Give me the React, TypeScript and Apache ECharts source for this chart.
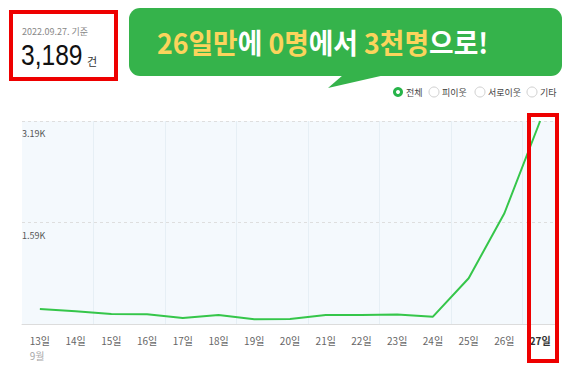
import React, { useEffect, useRef } from "react";
import * as echarts from "echarts";

const categories = ["13일", "14일", "15일", "16일", "17일", "18일", "19일", "20일", "21일", "22일", "23일", "24일", "25일", "26일", "27일"];
const values = [235, 200, 157, 155, 95, 140, 75, 80, 140, 140, 150, 115, 718, 1740, 3189];
const yMax = 3189;
const monthLabel = "9월";
const legendItems = ["전체", "피이웃", "서로이웃", "기타"];
const headerDate = "2022.09.27. 기준";
const headerCount = "3,189";
const headerUnit = "건";

const FONT = '"Noto Sans CJK KR", "Noto Sans", sans-serif';

export default function App() {
  const ref = useRef<HTMLDivElement>(null);
  useEffect(() => {
    document.body.style.margin = "0";
    const chart = echarts.init(ref.current!, null, { renderer: "svg" });
    const legendX = [398, 434, 480, 532];
    const legendGraphics: any[] = [];
    legendItems.forEach((t, i) => {
      if (i === 0) {
        legendGraphics.push({ type: "circle", shape: { cx: legendX[i], cy: 92, r: 5 }, style: { fill: "#27b44a" } });
        legendGraphics.push({ type: "circle", shape: { cx: legendX[i], cy: 92, r: 2 }, style: { fill: "#fff" } });
      } else {
        legendGraphics.push({ type: "circle", shape: { cx: legendX[i], cy: 92, r: 5 }, style: { fill: "#fff", stroke: "#cfcfcf", lineWidth: 1 } });
      }
      legendGraphics.push({
        type: "text", x: legendX[i] + 8, y: 92,
        style: { text: t, font: `9px ${FONT}`, fill: "#444", textVerticalAlign: "middle" },
      });
    });
    chart.setOption({
      animation: false,
      backgroundColor: "#fff",
      grid: { left: 22, right: 12, top: 121, bottom: 51, show: true, backgroundColor: "#f4f9fd", borderWidth: 0 },
      xAxis: {
        type: "category",
        data: categories,
        boundaryGap: true,
        axisLine: { lineStyle: { color: "#dcdcdc", width: 1 } },
        axisTick: { show: false },
        splitLine: {
          show: true,
          interval: (i: number) => i % 2 === 0 && i !== 0,
          lineStyle: { color: "#e6eff5", width: 1 },
        },
        axisLabel: {
          margin: 9,
          interval: 0,
          formatter: (v: string, i: number) =>
            i === 0 ? `{n|${v}}\n{m|${monthLabel}}` : i === categories.length - 1 ? `{b|${v}}` : `{n|${v}}`,
          rich: {
            n: { fontFamily: FONT, fontSize: 10, color: "#666", lineHeight: 15 },
            m: { fontFamily: FONT, fontSize: 10, color: "#aaa", lineHeight: 15, align: "left" },
            b: { fontFamily: FONT, fontSize: 10, color: "#333", fontWeight: "bold", lineHeight: 15 },
          },
        },
      },
      yAxis: {
        type: "value",
        min: 0,
        max: yMax,
        interval: yMax / 2,
        axisLine: { show: false },
        axisTick: { show: false },
        splitLine: { show: true, lineStyle: { color: "#dedede", type: [3, 3], width: 1 } },
        axisLabel: {
          inside: true,
          margin: 0,
          verticalAlign: "top",
          padding: [8, 0, 0, 0],
          fontFamily: FONT,
          fontSize: 9,
          color: "#555",
          formatter: (v: number) => (v === 0 ? "" : (v / 1000).toFixed(2) + "K"),
        },
      },
      series: [
        {
          type: "line",
          data: values,
          showSymbol: false,
          symbol: "none",
          lineStyle: { color: "#35c64a", width: 2 },
          z: 3,
        },
      ],
      graphic: [
        { type: "rect", shape: { x: 129, y: 8, width: 433, height: 68, r: 11 }, style: { fill: "#35b34b" } },
        { type: "polygon", shape: { points: [[343, 75], [385, 75], [328, 88]] }, style: { fill: "#35b34b" } },
        {
          type: "text", x: 157, y: 42, scaleX: 0.955,
          style: {
            text: "{y|26일만}{w|에 }{y|0명}{w|에서 }{y|3천명}{w|으로!}",
            textVerticalAlign: "middle",
            rich: {
              y: { fill: "#fbd45c", font: `bold 28px ${FONT}` },
              w: { fill: "#ffffff", font: `bold 28px ${FONT}` },
            },
          },
        },
        ...legendGraphics,
        { type: "rect", shape: { x: 11, y: 12, width: 105, height: 67 }, style: { fill: "#fff", stroke: "#ee0000", lineWidth: 4 } },
        { type: "text", x: 22, y: 31, style: { text: headerDate, font: `9px ${FONT}`, fill: "#888", textVerticalAlign: "middle" } },
        { type: "text", x: 21, y: 55, scaleX: 0.82, style: { text: headerCount, font: `30px "Liberation Sans", Arial, sans-serif`, fill: "#111", textVerticalAlign: "middle" } },
        { type: "text", x: 87, y: 61, style: { text: headerUnit, font: `11px ${FONT}`, fill: "#333", textVerticalAlign: "middle" } },
        { type: "rect", z: 100, shape: { x: 529, y: 115, width: 28, height: 246 }, style: { fill: "none", stroke: "#ee0000", lineWidth: 4 } },
      ],
    });
    return () => chart.dispose();
  }, []);
  return <div ref={ref} style={{ width: 570, height: 375, position: "absolute", left: 0, top: 0 }} />;
}
